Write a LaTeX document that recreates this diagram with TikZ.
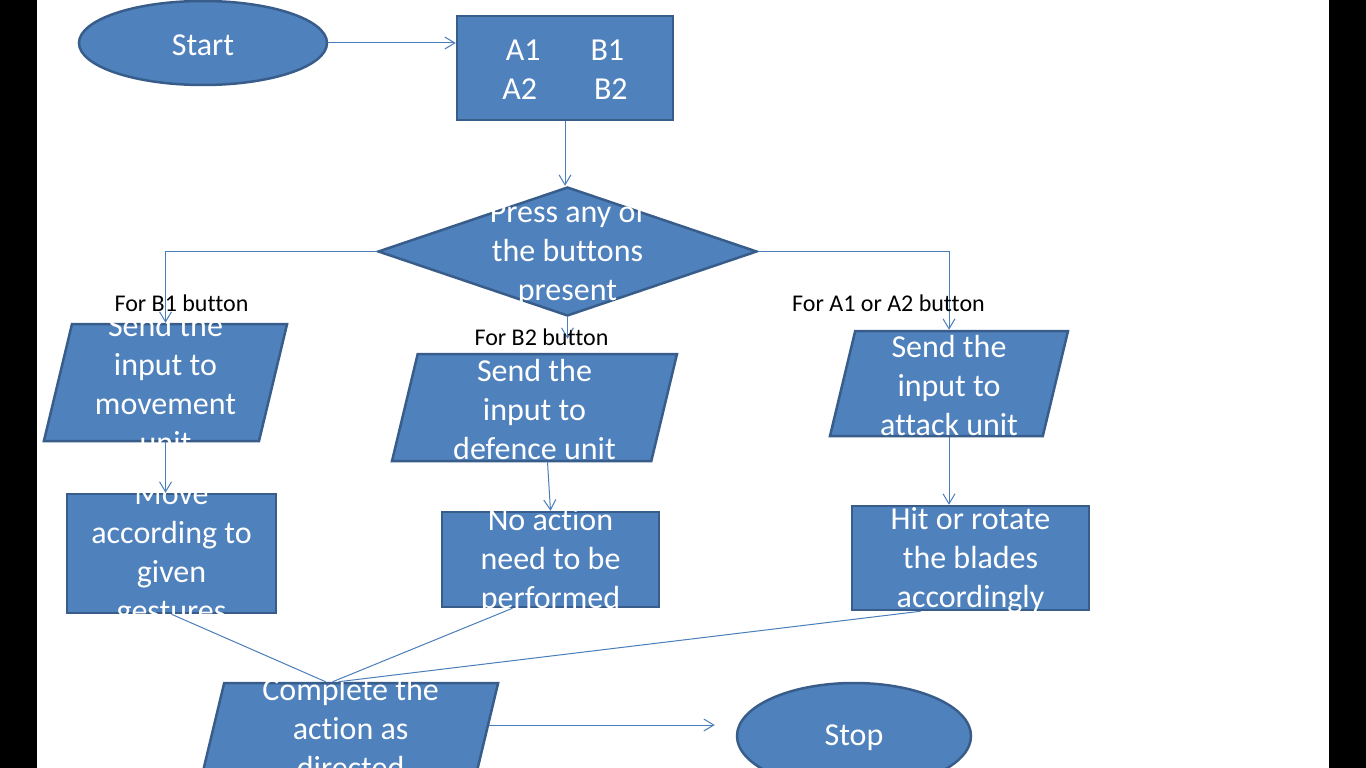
\documentclass[tikz,border=0pt]{standalone}
\usepackage{fontspec}
\setmainfont{Carlito}[Ligatures=NoCommon]
\usetikzlibrary{shapes.geometric,arrows.meta}
\definecolor{boxblue}{HTML}{4F81BD}
\definecolor{boxline}{HTML}{385D8A}
\definecolor{linkblue}{HTML}{4A7EBB}

\begin{document}
\begin{tikzpicture}[x=1pt, y=-1pt,
  every node/.style={inner sep=0pt},
  flowoval/.style={ellipse, fill=boxblue, draw=boxline, line width=2.5pt},
  flowbox/.style={rectangle, fill=boxblue, draw=boxline, line width=2.5pt},
  flowpara/.style={trapezium, trapezium left angle=76.5, trapezium right angle=103.5, text depth=0pt, fill=boxblue, draw=boxline, line width=2.5pt},
  flowask/.style={diamond, fill=boxblue, draw=boxline, line width=2.5pt},
  intext/.style={text=white, align=center, yshift=-2pt, font=\fontsize{32}{39}\selectfont},
  note/.style={text=black, font=\fontsize{24}{29}\selectfont},
  link/.style={draw=linkblue, line width=1pt},
  arr/.style={link, -{Straight Barb[length=10pt, width=12pt]}}
]

\fill[white] (0,0) rectangle (1366,768) ;
\fill[black] (0,0) rectangle (37,768) ;
\fill[black] (1329,0) rectangle (1366,768) ;
\useasboundingbox (0,0) rectangle (1366,768) ;

\node[flowoval, minimum width=248pt, minimum height=84pt, label={[intext]center:Start}] (start) at (203,43) {} ;
\node[flowbox, minimum width=216pt, minimum height=104pt, label={[intext]center:{A1\hspace{50pt}B1\\A2\hspace{57pt}B2}}] (keys) at (565,68) {} ;
\node[flowask, minimum width=379pt, minimum height=129pt, label={[intext]center:{Press any of\\the buttons\\present}}] (ask) at (567.5,251.5) {} ;

\node[flowpara, text width=187pt, text height=117pt, label={[intext]center:{Send the\\input to\\movement\\unit}}] (mov) at (165.5,382.5) {} ;
\node[flowpara, text width=233.6pt, text height=107pt, label={[intext]center:{Send the\\input to\\defence unit}}] (def) at (534.5,407.5) {} ;
\node[flowpara, text width=187.6pt, text height=105pt, label={[intext]center:{Send the\\input to\\attack unit}}] (att) at (949,383.5) {} ;

\node[flowbox, minimum width=209pt, minimum height=119pt, label={[intext]center:{Move\\according to\\given\\gestures}}] (move) at (171.5,553.5) {} ;
\node[flowbox, minimum width=217pt, minimum height=95pt, label={[intext]center:{No action\\need to be\\performed}}] (none) at (550.5,559.5) {} ;
\node[flowbox, minimum width=237pt, minimum height=104pt, label={[intext]center:{Hit or rotate\\the blades\\accordingly}}] (hit) at (970.5,558) {} ;

\node[flowpara, text width=252.8pt, text height=88pt, label={[intext]center:{Complete the\\action as\\directed}}] (cmp) at (350.6,727) {} ;
\node[flowoval, minimum width=234pt, minimum height=106pt, label={[intext]center:Stop}] (stop) at (854,736) {} ;

\draw[arr] (start.east) -- (start.east -| keys.west) ;
\draw[arr] (keys.south) -- (keys.south |- ask.north) ;
\draw[arr] (ask.west) -| (mov.north) ;
\draw[arr] (ask.east) -| (att.north) ;
\draw[arr, shorten >=14pt] (ask.south) -- (ask.south |- def.north) ;
\draw[arr] (mov.south) -- (mov.south |- move.north) ;
\draw[arr] ([xshift=13pt]def.south) -- (none.north) ;
\draw[arr] (att.south) -- (att.south |- hit.north) ;
\draw[link] (move.south) -- ([xshift=-25pt]cmp.north) ;
\draw[link] ([xshift=-38pt]none.south) -- ([xshift=-18pt]cmp.north) ;
\draw[link] ([xshift=-50pt]hit.south) -- ([xshift=-12pt]cmp.north) ;
\draw[arr, shorten >=21pt] ([yshift=2pt]cmp.east) -- ([yshift=2pt]cmp.east -| stop.west) ;

\node[note] (forb1) at (181.5,303) {For B1 button} ;
\node[note] (forb2) at (541.5,337) {For B2 button} ;
\node[note] (fora) at (888.5,303) {For A1 or A2 button} ;

\end{tikzpicture}
\end{document}
